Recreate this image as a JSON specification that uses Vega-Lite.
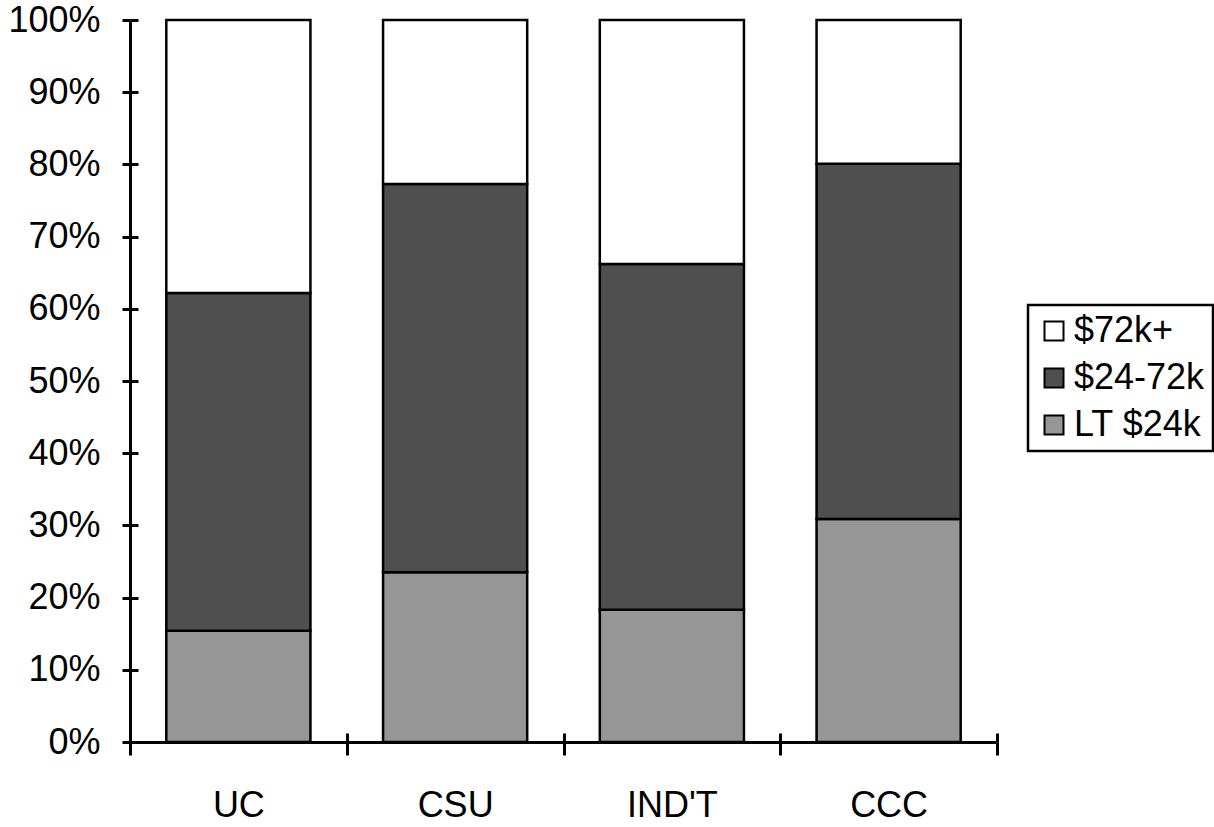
{
  "$schema": "https://vega.github.io/schema/vega-lite/v6.json",
  "autosize": "none",
  "width": 867,
  "height": 722,
  "padding": {"left": 130, "top": 20, "right": 217, "bottom": 85},
  "background": "white",
  "config": {
    "view": {"stroke": null},
    "font": "Liberation Sans",
    "legend": {"strokeColor": "black", "strokeWidth": 2.5}
  },
  "data": {
    "values": [
      {"school": "UC", "income": "LT $24k", "ord": 1, "pct": 15.4},
      {"school": "UC", "income": "$24-72k", "ord": 2, "pct": 46.8},
      {"school": "UC", "income": "$72k+", "ord": 3, "pct": 37.8},
      {"school": "CSU", "income": "LT $24k", "ord": 1, "pct": 23.5},
      {"school": "CSU", "income": "$24-72k", "ord": 2, "pct": 53.8},
      {"school": "CSU", "income": "$72k+", "ord": 3, "pct": 22.7},
      {"school": "IND'T", "income": "LT $24k", "ord": 1, "pct": 18.3},
      {"school": "IND'T", "income": "$24-72k", "ord": 2, "pct": 47.9},
      {"school": "IND'T", "income": "$72k+", "ord": 3, "pct": 33.8},
      {"school": "CCC", "income": "LT $24k", "ord": 1, "pct": 30.9},
      {"school": "CCC", "income": "$24-72k", "ord": 2, "pct": 49.2},
      {"school": "CCC", "income": "$72k+", "ord": 3, "pct": 19.9}
    ]
  },
  "layer": [
    {
      "mark": {"type": "bar", "stroke": "black", "strokeWidth": 2.5, "width": {"band": 0.665}},
      "encoding": {
        "x": {
          "field": "school",
          "type": "nominal",
          "sort": null,
          "scale": {"paddingInner": 0, "paddingOuter": 0},
          "axis": {
            "title": null,
            "orient": "bottom",
            "labelAngle": 0,
            "labelFontSize": 36,
            "labelColor": "black",
            "labelPadding": 33,
            "tickBand": "extent",
            "tickSize": 13,
            "tickWidth": 3,
            "tickColor": "black",
            "domainColor": "black",
            "domainWidth": 3
          }
        },
        "y": {
          "field": "pct",
          "type": "quantitative",
          "stack": "normalize",
          "scale": {"domain": [0, 1], "nice": false},
          "axis": {
            "title": null,
            "orient": "left",
            "format": ".0%",
            "values": [0, 0.1, 0.2, 0.3, 0.4, 0.5, 0.6, 0.7, 0.8, 0.9, 1],
            "grid": false,
            "labelFontSize": 36,
            "labelColor": "black",
            "labelPadding": 22,
            "tickSize": 8,
            "tickWidth": 3,
            "tickColor": "black",
            "domainColor": "black",
            "domainWidth": 3
          }
        },
        "order": {"field": "ord", "type": "quantitative"},
        "fill": {
          "field": "income",
          "type": "nominal",
          "scale": {
            "domain": ["$72k+", "$24-72k", "LT $24k"],
            "range": ["#ffffff", "#4f4f4f", "#969696"]
          },
          "legend": {
            "title": null,
            "orient": "none",
            "legendX": 898,
            "legendY": 285,
            "symbolType": "square",
            "symbolSize": 361,
            "symbolStrokeColor": "black",
            "symbolStrokeWidth": 2,
            "labelFontSize": 36,
            "labelColor": "black",
            "labelOffset": 2,
            "rowPadding": 11,
            "padding": 8,
            "fillColor": "white"
          }
        }
      }
    },
    {
      "mark": {"type": "bar", "opacity": 0, "width": {"band": 0.665}},
      "encoding": {
        "x": {
          "field": "school",
          "type": "nominal",
          "sort": null,
          "axis": {
            "title": null,
            "orient": "bottom",
            "labels": false,
            "domain": false,
            "tickBand": "extent",
            "tickSize": -9,
            "tickWidth": 3,
            "tickColor": "black"
          }
        },
        "y": {
          "field": "pct",
          "type": "quantitative",
          "stack": "normalize",
          "axis": {
            "title": null,
            "orient": "left",
            "labels": false,
            "domain": false,
            "grid": false,
            "values": [0, 0.1, 0.2, 0.3, 0.4, 0.5, 0.6, 0.7, 0.8, 0.9, 1],
            "tickSize": -8,
            "tickWidth": 3,
            "tickColor": "black"
          }
        },
        "order": {"field": "ord", "type": "quantitative"}
      }
    }
  ],
  "resolve": {"axis": {"x": "independent", "y": "independent"}}
}
